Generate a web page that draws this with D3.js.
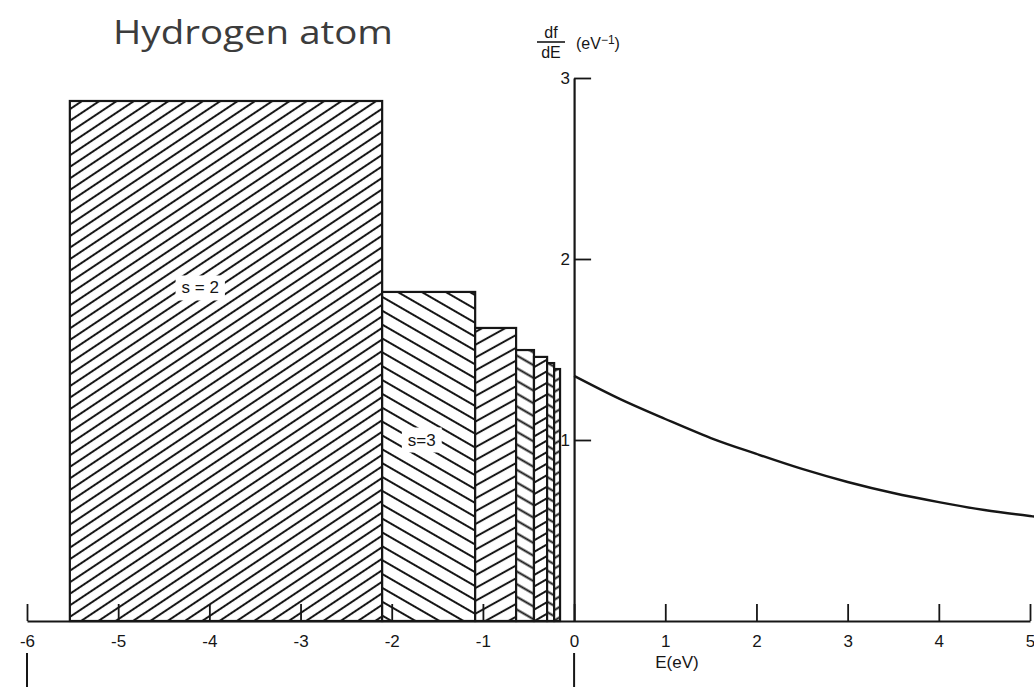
<!DOCTYPE html>
<html>
<head>
<meta charset="utf-8">
<script src="https://cdn.jsdelivr.net/npm/d3@7"></script>
<style>
  html, body { margin: 0; padding: 0; background: #fff; }
  svg { display: block; }
</style>
</head>
<body>
<svg id="chart" width="1034" height="687"></svg>
<script>
// Energy axis ticks (eV) and df/dE axis ticks (eV^-1)
const xTicks = [-6, -5, -4, -3, -2, -1, 0, 1, 2, 3, 4, 5];
const yTicks = [1, 2, 3];

// Discrete levels drawn as boxes: energy range and height
const levelLeft   = [-5.53, -2.105, -1.085, -0.636, -0.44, -0.296, -0.219];
const levelRight  = [-2.105, -1.085, -0.636, -0.44, -0.296, -0.219, -0.154];
const levelHeight = [2.873, 1.818, 1.619, 1.497, 1.459, 1.425, 1.392];
const levelNames  = ["s = 2", "s=3", "", "", "", "", ""];

// Continuum df/dE above E = 0
const contE = [0, 0.5, 1, 1.5, 2, 2.5, 3, 3.5, 4, 4.5, 5, 5.05];
const contV = [1.354, 1.227, 1.116, 1.011, 0.923, 0.840, 0.768, 0.707, 0.657, 0.613, 0.580, 0.577];

// Hatch style per box: direction (+1 = "/", -1 = "\"), angle in degrees, line spacing
const hatchDir   = [1, -1, 1, -1, 1, -1, 1];
const hatchAngle = [33.7, 30, 29, 30, 30, 30, 30];
const hatchGap   = [9.6, 12, 11.2, 11, 10, 9, 9];

const svg = d3.select("#chart");
const ink = "#161616";
const tickFont = "'Liberation Sans', 'DejaVu Sans', sans-serif";

const x = d3.scaleLinear().domain([-6, 5]).range([27, 1030]);
const y = d3.scaleLinear().domain([0, 3]).range([621, 78]);

// hatch patterns
const defs = svg.append("defs");
hatchDir.forEach((dir, i) => {
  const g = hatchGap[i];
  const p = defs.append("pattern")
    .attr("id", "hatch" + i)
    .attr("patternUnits", "userSpaceOnUse")
    .attr("width", 20).attr("height", g)
    .attr("patternTransform", `rotate(${-dir * hatchAngle[i]})`);
  p.append("rect").attr("width", 20).attr("height", g).attr("fill", "#fff");
  p.append("line")
    .attr("x1", 0).attr("x2", 20)
    .attr("y1", g / 2).attr("y2", g / 2)
    .attr("stroke", ink).attr("stroke-width", 2);
});

// level boxes
const boxes = levelLeft.map((l, i) => ({ l, r: levelRight[i], h: levelHeight[i], name: levelNames[i], i }));
svg.append("g").selectAll("rect")
  .data(boxes)
  .join("rect")
  .attr("x", d => x(d.l))
  .attr("y", d => y(d.h))
  .attr("width", d => x(d.r) - x(d.l))
  .attr("height", d => y(0) - y(d.h))
  .attr("fill", d => `url(#hatch${d.i})`)
  .attr("stroke", ink)
  .attr("stroke-width", 2.2);

// level names on white patches
const namePos = [{ e: -4.1, v: 1.84 }, { e: -1.67, v: 1.0 }];
boxes.filter(d => d.name).forEach((d, k) => {
  const px = x(namePos[k].e), py = y(namePos[k].v);
  const t = svg.append("text")
    .attr("x", px).attr("y", py)
    .attr("text-anchor", "middle")
    .attr("dominant-baseline", "central")
    .attr("font-family", tickFont)
    .attr("font-size", 17)
    .attr("fill", ink)
    .text(d.name);
  const bb = t.node().getBBox();
  svg.insert("rect", "text")
    .attr("x", bb.x - 6).attr("y", bb.y - 3)
    .attr("width", bb.width + 12).attr("height", bb.height + 6)
    .attr("fill", "#fff");
  t.raise();
});

// x axis, ticks pointing up
const xAxis = svg.append("g")
  .attr("transform", `translate(0,${y(0)})`)
  .call(d3.axisBottom(x)
    .tickValues(xTicks)
    .tickSizeInner(-17)
    .tickSizeOuter(0)
    .tickPadding(14)
    .tickFormat(d => d < 0 ? "-" + Math.abs(d) : String(d)));
xAxis.select(".domain").attr("stroke", ink).attr("stroke-width", 2.2);
xAxis.selectAll(".tick line").attr("stroke", ink).attr("stroke-width", 1.8);
xAxis.selectAll(".tick text")
  .attr("font-family", tickFont).attr("font-size", 17).attr("fill", ink);

// y axis on E = 0, ticks pointing right, labels left
const yAxis = svg.append("g")
  .attr("transform", `translate(${x(0)},0)`)
  .call(d3.axisLeft(y)
    .tickValues(yTicks)
    .tickSizeInner(-17)
    .tickSizeOuter(0)
    .tickPadding(4)
    .tickFormat(d3.format("d")));
yAxis.select(".domain").attr("stroke", ink).attr("stroke-width", 2.2);
yAxis.selectAll(".tick line").attr("stroke", ink).attr("stroke-width", 1.8);
yAxis.selectAll(".tick text")
  .attr("font-family", tickFont).attr("font-size", 17).attr("fill", ink);

// continuum curve
const line = d3.line()
  .x((d, i) => x(contE[i]))
  .y(d => y(d))
  .curve(d3.curveMonotoneX);
svg.append("path")
  .datum(contV)
  .attr("d", line)
  .attr("fill", "none")
  .attr("stroke", ink)
  .attr("stroke-width", 2.4);

// guide strokes below the axis at E = -6 and E = 0
svg.append("g").selectAll("line")
  .data([-6, 0])
  .join("line")
  .attr("x1", d => x(d)).attr("x2", d => x(d))
  .attr("y1", 653).attr("y2", 687)
  .attr("stroke", ink).attr("stroke-width", 2);

// x axis title
svg.append("text")
  .attr("x", 677).attr("y", 668)
  .attr("text-anchor", "middle")
  .attr("font-family", tickFont).attr("font-size", 17).attr("fill", ink)
  .text("E(eV)");

// y axis title: df/dE (eV^-1)
const yl = svg.append("g").attr("font-family", tickFont).attr("fill", ink).attr("font-size", 16);
yl.append("text").attr("x", 551).attr("y", 38).attr("text-anchor", "middle").text("df");
yl.append("line").attr("x1", 537).attr("x2", 565).attr("y1", 42).attr("y2", 42)
  .attr("stroke", ink).attr("stroke-width", 1.6);
yl.append("text").attr("x", 551).attr("y", 58).attr("text-anchor", "middle").text("dE");
const unit = yl.append("text").attr("x", 576).attr("y", 49);
unit.append("tspan").text("(eV");
unit.append("tspan").attr("dy", -5).attr("font-size", 12).text("−1");
unit.append("tspan").attr("dy", 5).text(")");

// title
svg.append("text")
  .attr("x", 113).attr("y", 44)
  .attr("font-family", "'Open Sans', 'Noto Sans', sans-serif")
  .attr("font-size", 33.5)
  .attr("fill", "#3c3c3c")
  .attr("textLength", 280)
  .attr("lengthAdjust", "spacingAndGlyphs")
  .text("Hydrogen atom");
</script>
</body>
</html>
